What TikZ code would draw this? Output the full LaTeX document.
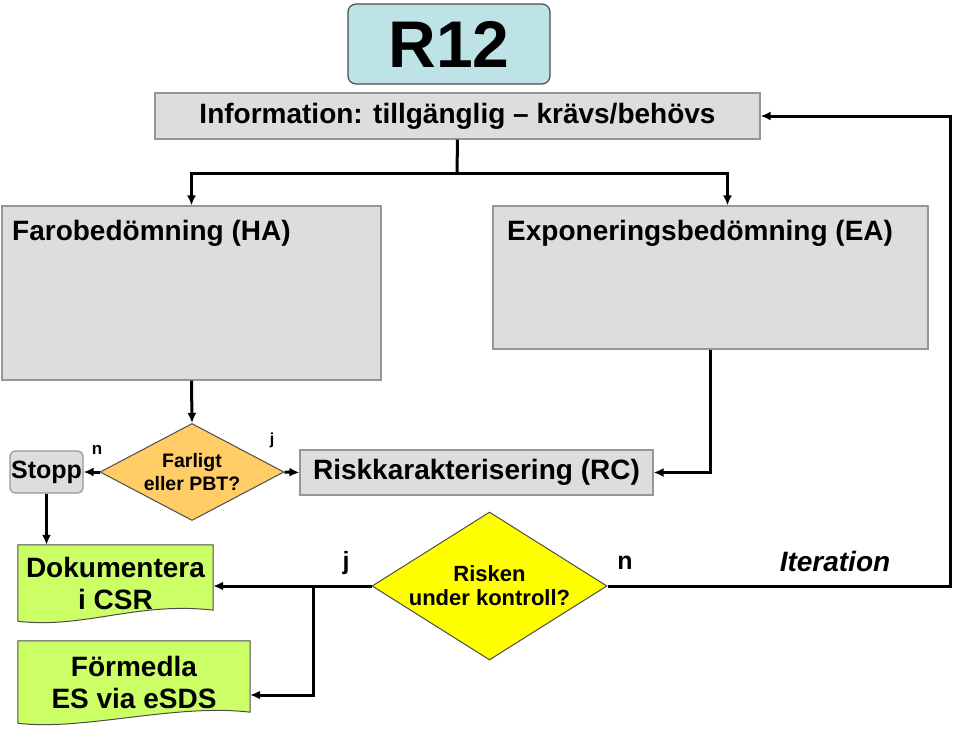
\documentclass[tikz,border=0pt]{standalone}
\usepackage{fontspec}
\setmainfont{Liberation Sans}
\usepackage{tikz}
\usetikzlibrary{calc, arrows.meta, shapes.geometric, backgrounds}
\definecolor{boxgray}{RGB}{221, 221, 221}
\definecolor{edgegray}{RGB}{150, 150, 150}
\definecolor{headcyan}{RGB}{190, 227, 230}
\definecolor{askorange}{RGB}{255, 204, 102}
\definecolor{askyellow}{RGB}{255, 255, 0}
\definecolor{docgreen}{RGB}{204, 255, 102}
\tikzset{>={Latex[length=10pt,width=9pt]}}
\tikzset{
  graybox/.style = {draw=edgegray, fill=boxgray, line width=1.2pt, inner sep=0pt},
  askbox/.style = {diamond, draw=black!70, line width=1pt, align=center},
  flow/.style = {line width=3pt},
  bigtxt/.style = {font=\fontsize{28}{32}\selectfont\bfseries},
}
% document shape with a wavy bottom, drawn behind node #1
\newcommand{\docshape}[1]{%
  \filldraw[fill=docgreen, draw=black!70, line width=1pt]
    (#1.north west) -- (#1.north east) -- ([yshift=11pt]#1.south east)
    .. controls ([xshift=-75pt, yshift=20pt]#1.south east) and ([xshift=65pt, yshift=-8pt]#1.south west) ..
    (#1.south west) -- cycle;}

\begin{document}
\begin{tikzpicture}[x=1pt, y=-1pt]
\useasboundingbox (0,0) rectangle (959,742);

\node[draw=black!70, fill=headcyan, line width=1.2pt, rounded corners=8pt,
      minimum width=202pt, minimum height=80pt, font=\fontsize{66}{70}\selectfont\bfseries] (r12) at (449,44) {R12};
\node[graybox, bigtxt, minimum width=605pt, minimum height=46pt] (info) at (457.5,116) {Information: tillgänglig -- krävs/behövs};

\node[graybox, minimum width=379pt, minimum height=174pt] (ha) at (191.5,293) {};
\node[bigtxt, anchor=base west, inner sep=0pt] (hatxt) at (12,240) {Farobedömning (HA)};
\node[graybox, minimum width=435pt, minimum height=143pt] (ea) at (710.5,277.5) {};
\node[bigtxt, anchor=base west, inner sep=0pt] (eatxt) at (507,240) {Exponeringsbedömning (EA)};

\node[askbox, fill=askorange, aspect=1.9, inner sep=-2pt, minimum width=184pt, minimum height=97pt,
      font=\fontsize{19.5}{23}\selectfont\bfseries] (farligt) at (192,472) {Farligt\\eller PBT?};
\node[graybox, rounded corners=5pt, minimum width=73pt, minimum height=42pt,
      font=\fontsize{25}{28}\selectfont\bfseries] (stopp) at (46.5,472) {Stopp};
\node[graybox, bigtxt, minimum width=353pt, minimum height=45pt] (rc) at (476.5,472.5) {Riskkarakterisering (RC)};

\node[bigtxt, align=center, minimum width=195pt, minimum height=76pt, inner sep=0pt] (dok) at (115.5,583) {Dokumentera\\i CSR};
\node[bigtxt, align=center, minimum width=232pt, minimum height=82pt, inner sep=0pt] (fmd) at (134,682) {Förmedla\\ES via eSDS};
\node[askbox, fill=askyellow, aspect=1.6, inner sep=-5pt, minimum width=235pt, minimum height=148pt,
      font=\fontsize{22}{24}\selectfont\bfseries] (risk) at (489.5,586) {Risken\\under kontroll?};

\begin{scope}[on background layer]
\docshape{dok}
\docshape{fmd}
\end{scope}

% connectors
\coordinate (split) at (457,173);
\draw[flow] (info.south) -- (split);
\draw[flow, ->] (split) -| (ha.north);
\draw[flow, ->] (split) -| ([xshift=17pt]ea.north);
\draw[flow, ->] (ha.south) -- (farligt.north);
\draw[flow, ->] (farligt.west) -- (stopp.east);
\draw[flow, ->] (farligt.east) -- (rc.west);
\draw[flow, ->] (ea.south) |- (rc.east);
\draw[flow, ->] (stopp.south) -- (stopp.south |- dok.north);
\draw[flow, ->] (risk.west) -- (dok.east |- risk.west);
\coordinate (branch) at (313,586);
\draw[flow, ->] (branch) |- ([yshift=-13pt]fmd.east);
\draw[flow, ->] (risk.east) -- ++(343,0) |- (info.east);

% labels
\node[font=\fontsize{17}{17}\selectfont\bfseries] (nfar) at (97,450) {n};
\node[font=\fontsize{16}{16}\selectfont\bfseries] (jfar) at (272,440) {j};
\node[font=\fontsize{25}{25}\selectfont\bfseries] (jrisk) at (346,563) {j};
\node[font=\fontsize{25}{25}\selectfont\bfseries] (nrisk) at (625,563) {n};
\node[font=\fontsize{28}{28}\selectfont\bfseries\itshape] (iter) at (835,561) {Iteration};
\end{tikzpicture}
\end{document}
